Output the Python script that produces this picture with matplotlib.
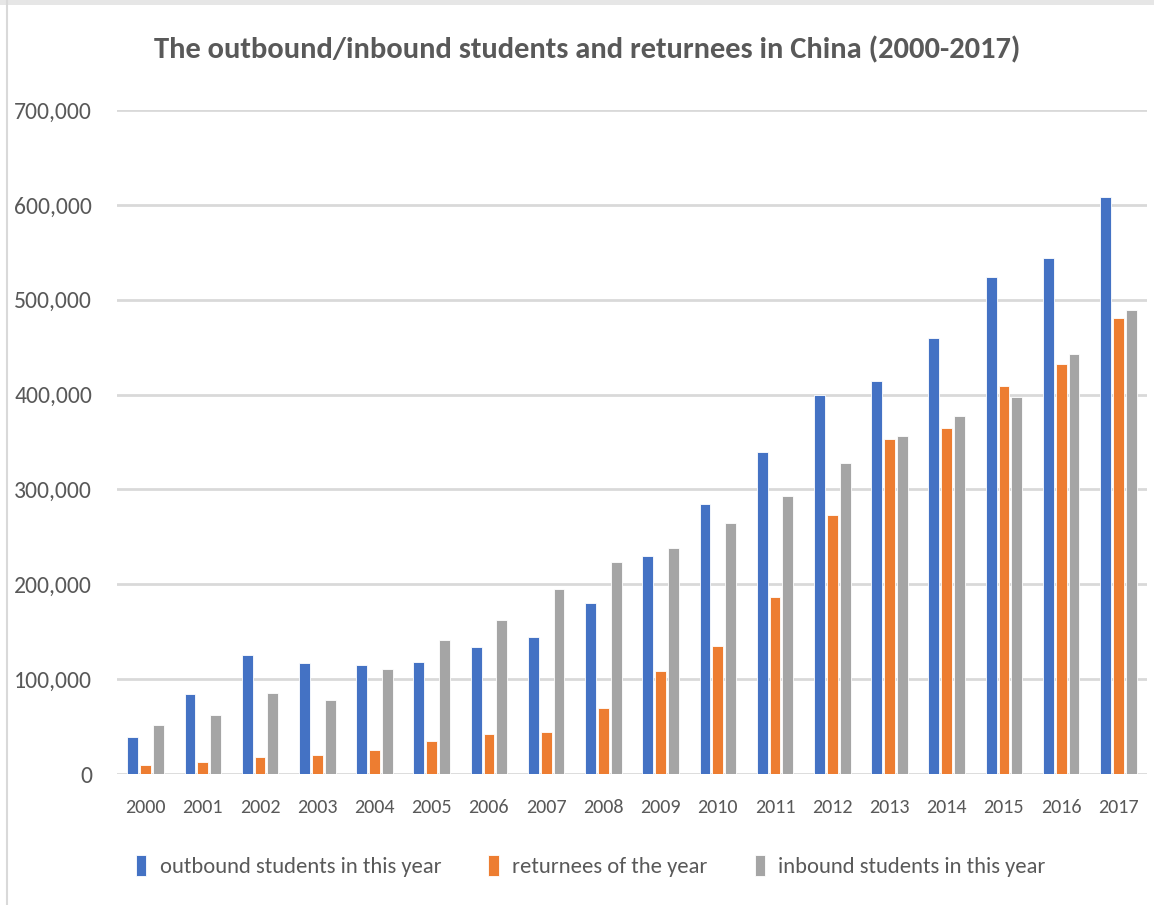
#!/usr/bin/env python3
"""Outbound/inbound students and returnees in China, 2000-2017."""
import numpy as np
import matplotlib
matplotlib.use("Agg")
import matplotlib.pyplot as plt
from matplotlib.lines import Line2D
from matplotlib.patches import Rectangle
from matplotlib.ticker import FuncFormatter

YEARS = [str(y) for y in range(2000, 2018)]
OUTBOUND = [39000, 84000, 125200, 117300, 114700, 118500, 134000, 144000, 179800,
            229300, 284700, 339700, 399600, 413900, 459800, 523700, 544500, 608400]
RETURNEES = [9100, 12200, 17900, 20100, 25100, 35000, 42000, 44000, 69300,
             108300, 134800, 186200, 272900, 353500, 364800, 409100, 432500, 480900]
INBOUND = [52150, 61900, 85800, 77700, 110800, 141100, 162700, 195500, 223500,
           238200, 265100, 292600, 328300, 356500, 377100, 397600, 442800, 489200]
LABELS = ["outbound students in this year", "returnees of the year",
          "inbound students in this year"]
COLORS = ["#4472C4", "#ED7D31", "#A5A5A5"]

FONT = ["Carlito", "DejaVu Sans"]
TEXT_COLOR = "#595959"

fig = plt.figure(figsize=(11.54, 9.05), dpi=100)
ax = fig.add_axes([117 / 1154, 1 - 774 / 905, 1030 / 1154, 664 / 905])

x = np.arange(len(YEARS))
offset = 0.225
width = 0.19
for i, (vals, color, label) in enumerate(zip([OUTBOUND, RETURNEES, INBOUND], COLORS, LABELS)):
    ax.bar(x + (i - 1) * offset, vals, width=width, color=color, edgecolor="white",
           linewidth=0.6, label=label, zorder=3)

ax.set_xlim(-0.5, len(YEARS) - 0.5)
ax.set_ylim(0, 700000)
ax.set_yticks(range(0, 700001, 100000))
ax.yaxis.set_major_formatter(FuncFormatter(lambda v, _: f"{int(v):,}"))
ax.set_xticks(x)
ax.set_xticklabels(YEARS)
ax.grid(axis="y", color="#D9D9D9", linewidth=2.0, zorder=0)
ax.set_axisbelow(True)
for side in ax.spines.values():
    side.set_visible(False)
ax.tick_params(axis="y", length=0, pad=18, labelsize=17, labelcolor=TEXT_COLOR)
ax.tick_params(axis="x", length=0, pad=18, labelsize=14.5, labelcolor=TEXT_COLOR)
for lbl in ax.get_xticklabels() + ax.get_yticklabels():
    lbl.set_family(FONT)

fig.text(0.509, 0.945, "The outbound/inbound students and returnees in China (2000-2017)",
         ha="center", va="center", fontsize=22, fontweight="bold",
         color=TEXT_COLOR, family=FONT)

leg = fig.legend(loc="center", bbox_to_anchor=(0.512, 0.043), ncol=3, frameon=False,
                 handlelength=0.45, handleheight=1.1, handletextpad=0.6,
                 columnspacing=2.1, prop={"family": FONT, "size": 16.2})
for t in leg.get_texts():
    t.set_color(TEXT_COLOR)

# screenshot frame: light band on top, thin line on the left
fig.patches.append(Rectangle((0, 1 - 5 / 905), 1, 5 / 905, transform=fig.transFigure,
                             facecolor="#E6E6E6", edgecolor="none"))
fig.lines.append(Line2D([7 / 1154, 7 / 1154], [0, 1], transform=fig.transFigure,
                        color="#D9D9D9", linewidth=1.5))

fig.savefig("out.png", dpi=100)
